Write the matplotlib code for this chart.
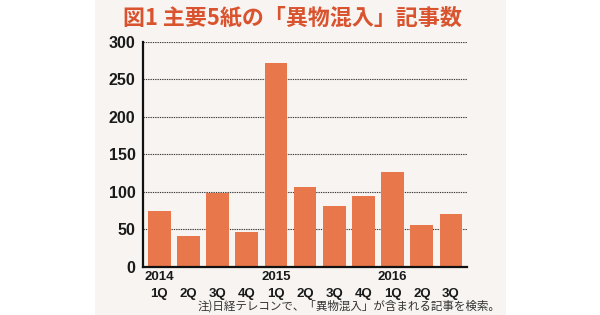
import matplotlib
matplotlib.use("Agg")
import matplotlib.pyplot as plt
from matplotlib.patches import Rectangle
import matplotlib.transforms as mtransforms

plt.rcParams['font.family'] = ['Liberation Sans', 'Noto Sans CJK JP', 'DejaVu Sans']

quarters = ["1Q", "2Q", "3Q", "4Q", "1Q", "2Q", "3Q", "4Q", "1Q", "2Q", "3Q"]
years = {0: "2014", 4: "2015", 8: "2016"}
values = [74, 41, 98, 47, 271, 107, 81, 95, 126, 56, 70]
yticks = [0, 50, 100, 150, 200, 250, 300]

title = "図1 主要5紙の「異物混入」記事数"
note = "注)日経テレコンで、「異物混入」が含まれる記事を検索。"

W, H = 600, 315
fig = plt.figure(figsize=(6, 3.15), dpi=100, facecolor="white")
fig.patches.append(Rectangle((95 / W, 0), (506 - 95) / W, 1, transform=fig.transFigure,
                             facecolor="#f7f4f1", edgecolor="none", zorder=-5))

ax = fig.add_axes([142.5 / W, (H - 267) / H, (466.5 - 142.5) / W, (267 - 41.5) / H])
ax.set_zorder(2)
ax.patch.set_visible(False)
x = list(range(len(values)))
ax.bar(x, values, width=0.78, color="#e8774b", zorder=2)
ax.set_xlim(-0.57, 10.53)
ax.set_ylim(0, 300)
ax.set_yticks(yticks)
ax.set_yticklabels([str(v) for v in yticks], fontsize=11.5, fontweight="bold", color="#1a1a1a")
ax.tick_params(axis="y", length=0, pad=5)
ax.set_xticks([])
for v in yticks[1:]:
    ax.axhline(v, color="#3a3a3a", linestyle=(0, (1.2, 0.9)), linewidth=0.8, zorder=1)
for s in ["top", "right"]:
    ax.spines[s].set_visible(False)
ax.spines["left"].set_linewidth(1.6)
ax.spines["bottom"].set_linewidth(1.6)
ax.spines["left"].set_color("#111111")
ax.spines["bottom"].set_color("#111111")

trans = mtransforms.blended_transform_factory(ax.transData, fig.transFigure)
for i, q in enumerate(quarters):
    ax.text(i, (H - 294) / H, q, transform=trans, ha="center", va="center",
            fontsize=9.5, fontweight="bold", color="#1a1a1a")
for i, yv in years.items():
    ax.text(i, (H - 277) / H, yv, transform=trans, ha="center", va="center",
            fontsize=9.5, fontweight="bold", color="#1a1a1a")

fig.text(123 / W, (H - 18) / H, title, ha="left", va="center", fontsize=15.8,
         fontweight="bold", color="#d9532e", family=['Noto Sans CJK JP', 'DejaVu Sans'])
fig.text(500 / W, (H - 306) / H, note, ha="right", va="center", fontsize=8.3,
         color="#333333", family=['Noto Sans CJK JP', 'DejaVu Sans'])

fig.savefig("out.png", dpi=100, facecolor="white")
